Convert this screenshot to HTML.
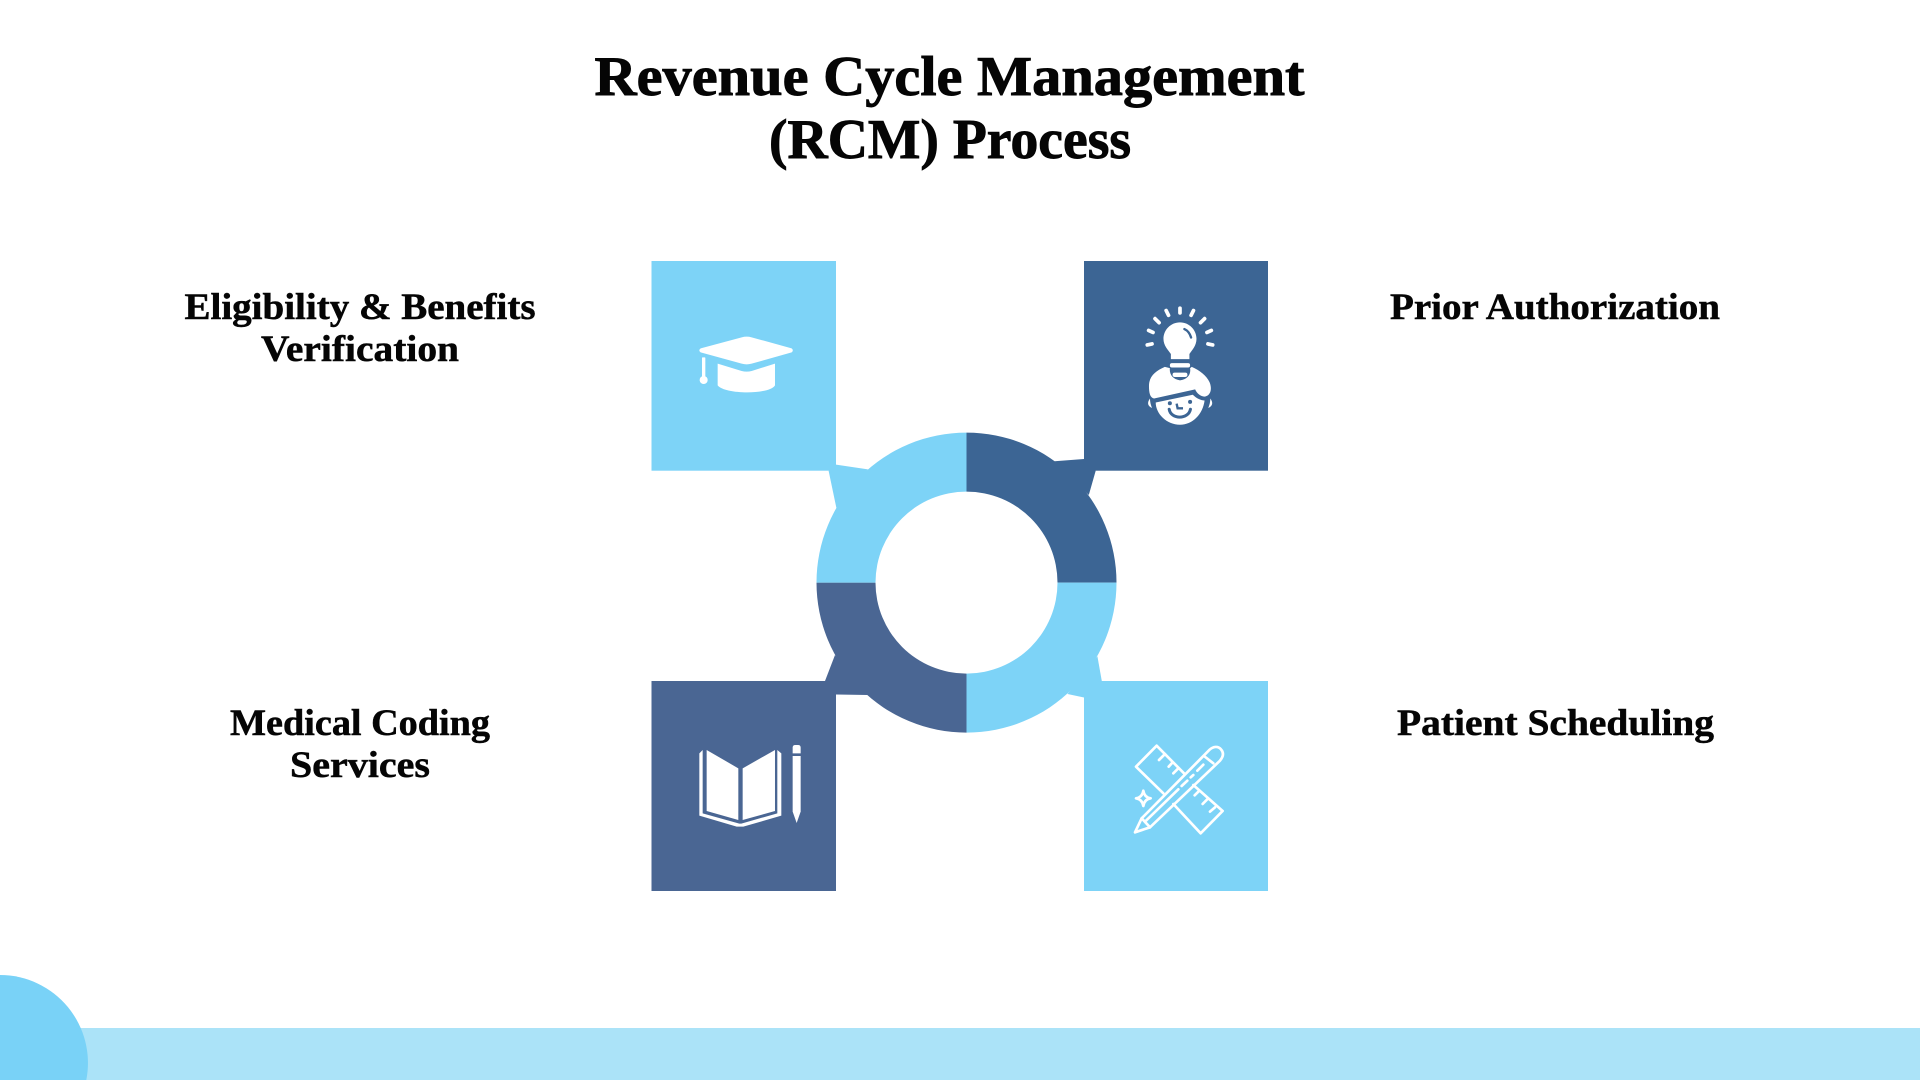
<!DOCTYPE html>
<html lang="en">
<head>
<meta charset="utf-8">
<title>Revenue Cycle Management (RCM) Process</title>
<style>
html,body{margin:0;padding:0;background:#fff;width:1920px;height:1080px;overflow:hidden}
svg{display:block}
.t{font-family:"Liberation Serif","DejaVu Serif",serif;font-weight:bold;fill:#050505;stroke:#050505;text-anchor:middle}
</style>
</head>
<body>
<svg id="diagram" width="1920" height="1080" viewBox="0 0 1920 1080" xmlns="http://www.w3.org/2000/svg">
  <rect x="0" y="1028" width="1920" height="52" fill="#abe3f8"/>
  <path d="M0,975 A88,88 0 0 1 86.3,1080 L0,1080 Z" fill="#79d2f7"/>

  <text class="t" x="949.5" y="95" font-size="56" stroke-width="0.9" textLength="710" lengthAdjust="spacingAndGlyphs">Revenue Cycle Management</text>
  <text class="t" x="950" y="158" font-size="56" stroke-width="0.9" textLength="362" lengthAdjust="spacingAndGlyphs">(RCM) Process</text>

  <text class="t" x="360" y="319" font-size="37" stroke-width="0.5" textLength="351" lengthAdjust="spacingAndGlyphs">Eligibility &amp; Benefits</text>
  <text class="t" x="360" y="361" font-size="37" stroke-width="0.5" textLength="198" lengthAdjust="spacingAndGlyphs">Verification</text>
  <text class="t" x="1555" y="319" font-size="37" stroke-width="0.5" textLength="330" lengthAdjust="spacingAndGlyphs">Prior Authorization</text>
  <text class="t" x="360" y="735" font-size="37" stroke-width="0.5" textLength="260" lengthAdjust="spacingAndGlyphs">Medical Coding</text>
  <text class="t" x="360" y="777" font-size="37" stroke-width="0.5" textLength="140" lengthAdjust="spacingAndGlyphs">Services</text>
  <text class="t" x="1555.5" y="735" font-size="37" stroke-width="0.5" textLength="317" lengthAdjust="spacingAndGlyphs">Patient Scheduling</text>

  <g id="ring"></g>

  <rect x="651.5" y="261" width="184.5" height="209.7" fill="#7dd3f7"/>
  <polygon points="836,464.6 868,469.4 836.4,508 828.6,470.7" fill="#7dd3f7"/>
  <rect x="1084" y="261" width="184" height="209.7" fill="#3c6594"/>
  <polygon points="1054.5,461.2 1084,459 1095.7,470.7 1088.8,495" fill="#3c6594"/>
  <rect x="651.5" y="681" width="184.5" height="210" fill="#4a6693"/>
  <polygon points="835,655 825,681 836,694.5 867.6,695" fill="#4a6693"/>
  <rect x="1084" y="681" width="184" height="210" fill="#7dd3f7"/>
  <polygon points="1097.4,656.3 1101.8,681 1084,697.5 1067.5,694" fill="#7dd3f7"/>

  <g transform="translate(680 310) scale(.3333)" fill="#fff">
    <path d="M62,115 L185,82 Q200,78 215,82 L335,115 Q342,121 335,127 L215,161 Q200,165 185,161 L62,127 Q54,121 62,115Z"/>
    <path d="M113,161 L185,183 Q200,187 215,183 L285,161 L285,226 C270,254 135,254 113,226Z"/>
    <rect x="66" y="142" width="10" height="62" rx="2"/>
    <circle cx="71" cy="210" r="12"/>
  </g>

  <g transform="translate(1090 290) scale(.337)" fill="#fff">
    <g stroke="#fff" stroke-width="11" stroke-linecap="round">
      <line x1="170" y1="163" x2="184" y2="160"/><line x1="174" y1="120" x2="187" y2="126"/>
      <line x1="193" y1="85" x2="205" y2="97"/><line x1="226" y1="61" x2="233" y2="75"/>
      <line x1="267" y1="54" x2="267" y2="68"/><line x1="307" y1="61" x2="300" y2="75"/>
      <line x1="340" y1="85" x2="328" y2="97"/><line x1="360" y1="120" x2="347" y2="126"/>
      <line x1="364" y1="163" x2="350" y2="160"/>
    </g>
    <path d="M267,96 C240,96 218,118 218,145 C218,165 232,178 240,190 L240,205 L295,205 L295,190 C303,178 316,165 316,145 C316,118 294,96 267,96Z"/>
    <path d="M280,116 Q294,122 300,141" fill="none" stroke="#3c6594" stroke-width="7" stroke-linecap="round"/>
    <rect x="237" y="217" width="60" height="13" rx="6"/>
    <rect x="245" y="245" width="44" height="13" rx="6"/>
    <path d="M222,228 C195,240 175,255 175,285 C175,305 178,320 190,322 L312,295 C318,310 335,320 345,315 C358,310 360,295 358,285 C355,262 330,240 302,228 L297,232 C300,250 290,265 267,268 C245,265 235,250 237,232Z"/>
    <path d="M195,334 L305,311 C316,322 330,328 340,328 C335,368 305,400 267,400 C228,400 195,368 195,334Z"/>
    <circle cx="237" cy="336" r="6" fill="#3c6594"/><circle cx="297" cy="332" r="6" fill="#3c6594"/>
    <path d="M257,337 L260,351 L276,351" fill="none" stroke="#3c6594" stroke-width="7"/>
    <path d="M235,354 C240,385 292,385 298,354" fill="none" stroke="#3c6594" stroke-width="9" stroke-linecap="round"/>
    <path d="M178,322 C168,335 172,345 184,350 C180,340 178,332 178,322Z"/>
    <path d="M357,322 C367,335 363,345 351,350 C355,340 357,332 357,322Z"/>
  </g>

  <g transform="translate(680 725) scale(.3333)" fill="#fff">
    <path d="M80,75 L175,130 L175,285 L80,258Z"/>
    <path d="M188,130 L285,75 L285,258 L188,285Z"/>
    <path d="M58,85 L68,75 L68,265 L178,296 L184,296 L292,265 L292,75 L304,85 L304,272 L190,305 L170,305 L58,272Z"/>
    <path d="M338,85 L338,68 Q338,60 346,60 L354,60 Q362,60 362,68 L362,85Z"/>
    <path d="M338,93 L362,93 L362,260 L350,294 L338,260Z"/>
  </g>

  <g transform="translate(1110 730) scale(.3333)" fill="none" stroke="#fff" stroke-width="8" stroke-linejoin="round" stroke-linecap="round">
    <path d="M222,130 L140,47 L78,110 L160,190"/>
    <path d="M190,222 L272,310 L338,243 L250,165"/>
    <path d="M165,72 L147,90 M188,97 L176,110 M205,115 L190,130 M268,182 L254,196 M293,207 L278,222 M315,232 L300,245"/>
    <path d="M75,307 L95,265 L298,60 C310,48 325,48 333,58 C342,68 340,80 330,92 L120,292Z"/>
    <path d="M95,265 L120,292 M108,272 L205,178 M215,168 L232,152 M242,142 L250,135 M262,122 L280,104 M282,78 L310,100"/>
    <path d="M100,182 Q103,202 122,205 Q103,208 100,228 Q97,208 78,205 Q97,202 100,182Z"/>
  </g>
</svg>

<script>
var steps = ["Prior Authorization", "Patient Scheduling", "Medical Coding", "Eligibility"];
var shares = [25, 25, 25, 25];
var ringColors = ["#3c6594", "#7dd3f7", "#4a6693", "#7dd3f7"];

var centerX = 966.5, centerY = 582.6, outerRadius = 150, innerRadius = 91;
var total = shares.reduce(function (a, b) { return a + b; }, 0);

function angleOf(value) { return value / total * 2 * Math.PI; }
function pointAt(radius, angle) {
  return (centerX + radius * Math.sin(angle)).toFixed(2) + " " + (centerY - radius * Math.cos(angle)).toFixed(2);
}
function arcPath(a0, a1) {
  var large = a1 - a0 > Math.PI ? 1 : 0;
  return "M" + pointAt(outerRadius, a0) +
    " A" + outerRadius + " " + outerRadius + " 0 " + large + " 1 " + pointAt(outerRadius, a1) +
    " L" + pointAt(innerRadius, a1) +
    " A" + innerRadius + " " + innerRadius + " 0 " + large + " 0 " + pointAt(innerRadius, a0) + " Z";
}

var ring = document.getElementById("ring");
var running = 0;
shares.forEach(function (share, i) {
  var a0 = angleOf(running);
  running += share;
  var a1 = angleOf(running);
  var el = document.createElementNS("http://www.w3.org/2000/svg", "path");
  el.setAttribute("d", arcPath(a0, a1));
  el.setAttribute("fill", ringColors[i]);
  
  
  el.setAttribute("aria-label", steps[i]);
  ring.appendChild(el);
});
</script>
</body>
</html>
